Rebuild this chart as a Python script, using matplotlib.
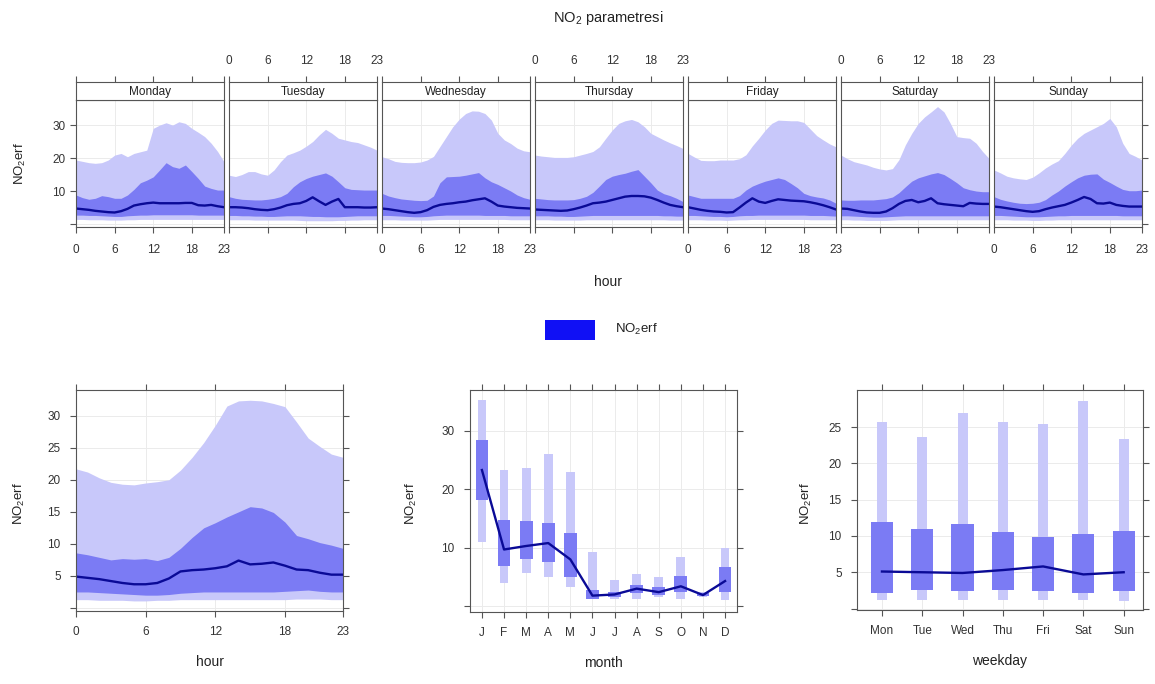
import numpy as np
import matplotlib
matplotlib.use('Agg')
import matplotlib.pyplot as plt
from matplotlib.patches import Rectangle

plt.rcParams['font.family'] = ['Liberation Sans', 'DejaVu Sans']
plt.rcParams['mathtext.fontset'] = 'custom'
plt.rcParams['mathtext.rm'] = 'Liberation Sans'

# ---- data ----
days = ['Monday', 'Tuesday', 'Wednesday', 'Thursday', 'Friday', 'Saturday', 'Sunday']
hours = list(range(24))

# day x hour: 95th percentile
day_p95 = [
    [19.4, 19.0, 18.6, 18.4, 18.6, 19.4, 20.9, 21.4, 20.4, 21.4, 21.9, 22.4, 29.0, 30.0, 30.7, 30.0, 31.0, 30.5, 29.0, 27.8, 26.5, 24.5, 22.0, 18.9],
    [14.8, 14.4, 15.0, 15.9, 15.9, 15.2, 14.8, 16.4, 18.9, 20.9, 21.6, 22.4, 23.6, 25.0, 27.0, 28.7, 27.5, 26.0, 25.5, 25.0, 24.7, 24.0, 23.3, 22.4],
    [20.4, 19.8, 19.0, 18.7, 18.6, 18.6, 18.8, 19.4, 20.5, 23.5, 26.5, 29.5, 31.8, 33.5, 34.3, 34.2, 33.5, 31.5, 27.5, 25.5, 24.4, 23.0, 22.2, 21.9],
    [20.9, 20.6, 20.4, 20.2, 20.2, 20.2, 20.4, 20.9, 21.4, 22.0, 23.4, 26.0, 28.5, 30.5, 31.3, 31.7, 31.0, 29.5, 27.5, 26.5, 25.5, 24.6, 23.8, 22.9],
    [21.4, 20.3, 19.3, 19.2, 19.2, 19.4, 19.4, 19.4, 19.8, 21.0, 23.7, 26.0, 28.5, 30.5, 31.5, 31.4, 31.3, 31.3, 30.8, 28.8, 26.8, 25.5, 24.3, 23.4],
    [20.9, 19.8, 18.9, 18.4, 17.9, 17.2, 16.7, 16.4, 16.8, 19.5, 24.0, 27.5, 30.5, 32.5, 34.0, 35.6, 34.0, 30.5, 26.5, 26.2, 26.0, 24.5, 22.0, 19.9],
    [16.4, 15.5, 14.5, 14.0, 13.7, 13.5, 14.2, 15.5, 17.0, 18.2, 19.2, 21.4, 23.9, 26.0, 27.5, 28.5, 29.5, 30.5, 32.0, 29.5, 24.5, 21.4, 20.5, 19.4],
]
# day x hour: 75th percentile
day_p75 = [
    [8.8, 8.0, 7.5, 7.8, 8.6, 8.3, 7.8, 7.8, 8.8, 10.5, 12.5, 13.3, 14.3, 16.4, 18.6, 17.4, 16.9, 17.9, 15.9, 13.8, 11.5, 10.8, 10.3, 10.3],
    [8.3, 7.8, 7.5, 7.4, 7.3, 7.3, 7.5, 7.8, 8.3, 9.3, 11.3, 12.8, 13.8, 14.5, 15.0, 15.5, 14.5, 12.8, 11.0, 10.5, 10.4, 10.3, 10.3, 10.3],
    [9.3, 8.5, 8.0, 7.6, 7.4, 7.2, 7.1, 7.2, 8.5, 12.5, 14.3, 14.4, 14.5, 14.8, 15.2, 15.6, 14.0, 12.8, 12.0, 11.0, 10.0, 8.8, 8.0, 7.5],
    [7.8, 7.6, 7.4, 7.3, 7.3, 7.3, 7.4, 7.8, 8.4, 9.6, 11.5, 13.5, 14.5, 15.0, 15.4, 16.0, 16.5, 14.5, 12.5, 10.3, 9.2, 8.6, 7.8, 6.8],
    [8.8, 8.3, 7.8, 7.8, 7.8, 7.8, 7.8, 7.8, 8.6, 10.3, 11.5, 12.3, 13.0, 13.5, 14.0, 13.5, 12.3, 11.0, 9.3, 8.6, 8.2, 7.9, 7.3, 6.3],
    [7.3, 7.2, 7.2, 7.3, 7.3, 7.3, 7.5, 7.7, 8.2, 9.5, 11.3, 13.0, 14.0, 14.6, 15.2, 15.6, 15.0, 13.8, 12.5, 11.0, 10.4, 10.0, 9.8, 9.8],
    [8.3, 7.5, 7.0, 6.6, 6.3, 6.2, 6.3, 6.6, 7.4, 8.8, 10.0, 11.5, 12.8, 14.0, 14.8, 15.1, 15.2, 13.6, 12.6, 11.5, 10.5, 10.1, 10.1, 10.3],
]
# day x hour: median
day_med = [
    [4.7, 4.5, 4.3, 4.0, 3.8, 3.6, 3.5, 3.9, 4.6, 5.6, 6.0, 6.3, 6.5, 6.3, 6.3, 6.3, 6.3, 6.4, 6.4, 5.7, 5.6, 5.8, 5.4, 5.1],
    [5.1, 5.1, 5.0, 4.8, 4.5, 4.3, 4.2, 4.5, 5.0, 5.7, 6.1, 6.3, 7.0, 8.1, 6.9, 5.8, 6.8, 7.6, 5.1, 5.1, 5.1, 5.0, 5.0, 5.1],
    [4.7, 4.5, 4.2, 3.9, 3.6, 3.4, 3.6, 4.2, 5.2, 5.8, 6.1, 6.3, 6.6, 6.8, 7.2, 7.5, 7.8, 6.8, 5.6, 5.3, 5.1, 4.9, 4.8, 4.7],
    [4.4, 4.3, 4.2, 4.1, 4.0, 4.1, 4.5, 5.0, 5.6, 6.3, 6.5, 6.8, 7.3, 7.8, 8.3, 8.5, 8.5, 8.4, 8.0, 7.3, 6.5, 5.8, 5.4, 5.1],
    [5.1, 4.7, 4.3, 4.0, 3.8, 3.7, 3.5, 3.6, 5.0, 6.5, 7.8, 6.8, 6.4, 7.0, 7.5, 7.3, 7.1, 7.0, 6.9, 6.6, 6.2, 5.7, 5.1, 4.4],
    [4.7, 4.6, 4.2, 3.8, 3.5, 3.4, 3.4, 3.8, 4.8, 6.1, 7.0, 7.3, 6.6, 7.0, 7.8, 6.3, 6.0, 5.8, 5.6, 5.4, 6.4, 6.2, 6.1, 6.1],
    [5.3, 5.1, 4.8, 4.5, 4.2, 3.9, 3.7, 3.9, 4.5, 5.0, 5.4, 5.8, 6.5, 7.3, 8.2, 7.6, 6.3, 6.2, 6.5, 5.8, 5.5, 5.3, 5.3, 5.3],
]
# day x hour: 25th percentile
day_p25 = [
    [2.7, 2.7, 2.6, 2.6, 2.5, 2.4, 2.3, 2.3, 2.5, 2.6, 2.7, 2.7, 2.8, 2.8, 2.8, 2.8, 2.8, 2.8, 2.8, 2.7, 2.7, 2.7, 2.7, 2.7],
    [2.6, 2.6, 2.5, 2.5, 2.4, 2.4, 2.3, 2.3, 2.4, 2.5, 2.5, 2.5, 2.4, 2.3, 2.3, 2.2, 2.2, 2.2, 2.3, 2.4, 2.5, 2.5, 2.5, 2.5],
    [2.6, 2.6, 2.5, 2.4, 2.3, 2.2, 2.2, 2.3, 2.5, 2.6, 2.7, 2.7, 2.7, 2.7, 2.7, 2.7, 2.6, 2.6, 2.6, 2.6, 2.5, 2.5, 2.5, 2.5],
    [2.5, 2.5, 2.5, 2.4, 2.4, 2.3, 2.3, 2.4, 2.5, 2.6, 2.6, 2.6, 2.6, 2.6, 2.6, 2.6, 2.6, 2.6, 2.6, 2.6, 2.5, 2.5, 2.4, 2.4],
    [2.6, 2.6, 2.5, 2.4, 2.3, 2.3, 2.2, 2.3, 2.5, 2.6, 2.6, 2.7, 2.7, 2.7, 2.7, 2.7, 2.7, 2.7, 2.7, 2.6, 2.6, 2.6, 2.5, 2.4],
    [2.5, 2.5, 2.4, 2.3, 2.2, 2.1, 2.1, 2.2, 2.3, 2.4, 2.5, 2.5, 2.5, 2.5, 2.5, 2.5, 2.5, 2.5, 2.5, 2.5, 2.5, 2.5, 2.5, 2.5],
    [2.6, 2.6, 2.5, 2.4, 2.3, 2.2, 2.2, 2.2, 2.3, 2.4, 2.5, 2.5, 2.6, 2.6, 2.6, 2.6, 2.6, 2.6, 2.6, 2.6, 2.5, 2.5, 2.5, 2.5],
]
# day x hour: 5th percentile
day_p05 = [
    [1.4, 1.4, 1.3, 1.3, 1.3, 1.2, 1.2, 1.2, 1.3, 1.3, 1.4, 1.4, 1.4, 1.4, 1.4, 1.4, 1.4, 1.4, 1.4, 1.4, 1.4, 1.4, 1.4, 1.4],
    [1.3, 1.3, 1.3, 1.3, 1.2, 1.2, 1.2, 1.2, 1.2, 1.2, 1.2, 1.1, 1.0, 1.0, 1.0, 1.0, 1.0, 1.1, 1.1, 1.2, 1.2, 1.3, 1.3, 1.3],
    [1.3, 1.3, 1.3, 1.2, 1.2, 1.2, 1.2, 1.2, 1.3, 1.4, 1.4, 1.4, 1.4, 1.4, 1.4, 1.4, 1.4, 1.4, 1.4, 1.4, 1.3, 1.3, 1.3, 1.3],
    [1.3, 1.3, 1.3, 1.2, 1.2, 1.2, 1.2, 1.2, 1.3, 1.3, 1.3, 1.3, 1.3, 1.3, 1.3, 1.3, 1.3, 1.3, 1.3, 1.3, 1.3, 1.2, 1.2, 1.2],
    [1.3, 1.3, 1.3, 1.2, 1.2, 1.2, 1.1, 1.2, 1.3, 1.3, 1.4, 1.4, 1.4, 1.4, 1.4, 1.4, 1.4, 1.4, 1.4, 1.3, 1.3, 1.3, 1.3, 1.3],
    [1.3, 1.3, 1.2, 1.2, 1.1, 1.1, 1.1, 1.1, 1.2, 1.3, 1.3, 1.3, 1.3, 1.3, 1.3, 1.3, 1.3, 1.3, 1.3, 1.3, 1.3, 1.3, 1.3, 1.3],
    [1.3, 1.3, 1.3, 1.2, 1.2, 1.2, 1.1, 1.1, 1.2, 1.2, 1.3, 1.3, 1.3, 1.3, 1.3, 1.3, 1.3, 1.3, 1.3, 1.3, 1.3, 1.3, 1.3, 1.3],
]

# whole-week hourly profile
hr_p95 = [21.7, 21.2, 20.3, 19.6, 19.3, 19.2, 19.5, 19.7, 20.0, 21.5, 23.5, 25.8, 28.5, 31.5, 32.3, 32.4, 32.3, 31.9, 31.4, 29.0, 26.5, 25.2, 24.0, 23.5]
hr_p75 = [8.6, 8.3, 7.9, 7.5, 7.7, 7.6, 7.7, 7.4, 7.9, 9.3, 11.0, 12.5, 13.3, 14.2, 15.0, 15.8, 15.6, 14.9, 13.4, 11.3, 10.8, 10.2, 9.8, 9.3]
hr_med = [4.9, 4.7, 4.5, 4.2, 3.9, 3.7, 3.7, 3.9, 4.6, 5.7, 5.9, 6.0, 6.2, 6.5, 7.4, 6.8, 6.9, 7.1, 6.6, 6.0, 5.9, 5.5, 5.2, 5.2]
hr_p25 = [2.5, 2.5, 2.4, 2.3, 2.2, 2.1, 2.0, 2.0, 2.1, 2.3, 2.4, 2.5, 2.5, 2.5, 2.5, 2.5, 2.5, 2.5, 2.6, 2.7, 2.8, 2.6, 2.5, 2.5]
hr_p05 = [1.3, 1.3, 1.2, 1.2, 1.2, 1.1, 1.1, 1.2, 1.2, 1.3, 1.3, 1.3, 1.3, 1.3, 1.3, 1.3, 1.3, 1.3, 1.3, 1.4, 1.4, 1.4, 1.3, 1.3]

# monthly
months = ['J', 'F', 'M', 'A', 'M', 'J', 'J', 'A', 'S', 'O', 'N', 'D']
mon_p95 = [35.3, 23.3, 23.6, 26.0, 23.0, 9.2, 4.4, 5.5, 5.0, 8.5, 2.5, 10.0]
mon_p75 = [28.4, 14.8, 14.5, 14.2, 12.6, 2.7, 2.5, 3.6, 3.3, 5.1, 2.2, 6.7]
mon_med = [23.3, 9.7, 10.3, 10.8, 8.0, 1.8, 2.0, 3.0, 2.4, 3.4, 1.9, 4.3]
mon_p25 = [18.2, 6.9, 8.0, 7.6, 5.0, 1.3, 1.6, 2.2, 1.9, 2.5, 1.7, 2.4]
mon_p05 = [10.9, 3.9, 5.7, 5.0, 3.3, 1.3, 1.3, 1.3, 1.6, 1.3, 1.6, 1.0]

# weekday
wdays = ['Mon', 'Tue', 'Wed', 'Thu', 'Fri', 'Sat', 'Sun']
wd_p95 = [25.7, 23.6, 26.9, 25.7, 25.4, 28.6, 23.4]
wd_p75 = [11.9, 11.0, 11.6, 10.5, 9.8, 10.3, 10.7]
wd_med = [5.1, 5.0, 4.9, 5.3, 5.8, 4.7, 5.0]
wd_p25 = [2.2, 2.5, 2.4, 2.5, 2.4, 2.1, 2.4]
wd_p05 = [1.2, 1.2, 1.2, 1.2, 1.2, 1.2, 1.0]

# ---- style ----
c_light = '#c8c8fa'
c_mid = '#7b7bf4'
c_line = '#0a0a96'
c_frame = '#555555'
c_grid = '#ebebeb'
ylab = 'NO$_\\mathregular{2}$erf'

W, H = 1155, 684
fig = plt.figure(figsize=(W / 100, H / 100), dpi=100)


def px(x0, y0, x1, y1):
    return [x0 / W, 1 - y1 / H, (x1 - x0) / W, (y1 - y0) / H]


def frame(ax):
    for s in ax.spines.values():
        s.set_color(c_frame)
        s.set_linewidth(0.8)
    ax.tick_params(color=c_frame, labelcolor='#333333', length=4, width=0.8,
                   labelsize=8.5, direction='out')
    ax.grid(color=c_grid, lw=0.7)
    ax.set_axisbelow(True)


# ---- top row: hour by day ----
for i, day in enumerate(days):
    x0 = 76 + 153 * i
    ax = fig.add_axes(px(x0, 100, x0 + 148, 227))
    frame(ax)
    ax.fill_between(hours, day_p05[i], day_p95[i], color=c_light, lw=0)
    ax.fill_between(hours, day_p25[i], day_p75[i], color=c_mid, lw=0)
    ax.plot(hours, day_med[i], color=c_line, lw=1.7)
    ax.set_xlim(0, 23)
    ax.set_ylim(-0.9, 37.6)
    ax.set_xticks([0, 6, 12, 18, 23])
    ax.set_yticks([0, 10, 20, 30])
    ax.tick_params(axis='x', top=False, labelbottom=(i % 2 == 0), pad=8)
    if i == 0:
        ax.set_yticklabels(['', '10', '20', '30'])
        ax.tick_params(axis='y', left=True, right=False)
    elif i == 6:
        ax.tick_params(axis='y', left=False, right=True, labelleft=False)
    else:
        ax.tick_params(axis='y', left=False, labelleft=False)

    st = fig.add_axes(px(x0, 82, x0 + 148, 100))
    for s in st.spines.values():
        s.set_color(c_frame)
        s.set_linewidth(0.8)
    st.set_xlim(0, 23)
    st.set_ylim(0, 1)
    st.set_yticks([])
    st.xaxis.tick_top()
    st.set_xticks([0, 6, 12, 18, 23])
    st.tick_params(axis='x', color=c_frame, labelcolor='#333333', length=4,
                   width=0.8, labelsize=8.5, labeltop=(i % 2 == 1), pad=7)
    st.text(11.5, 0.45, day, ha='center', va='center', fontsize=8.5, color='#222222')

fig.text(608 / W, 1 - 18 / H, 'NO$_\\mathregular{2}$ parametresi', ha='center', va='center',
         fontsize=10.5, color='#222222')
fig.text(20 / W, 1 - 163 / H, ylab, rotation=90, ha='center', va='center',
         fontsize=9.5, color='#222222')
fig.text(608 / W, 1 - 282 / H, 'hour', ha='center', va='center', fontsize=10, color='#222222')

# legend
fig.patches.append(Rectangle((545 / W, 1 - 340 / H), 50 / W, 20 / H,
                             transform=fig.transFigure, color='#1010f5', lw=0))
fig.text(615 / W, 1 - 329 / H, ylab, ha='left', va='center', fontsize=9.5, color='#222222')

# ---- bottom left: hour ----
ax = fig.add_axes(px(76, 390, 343, 611))
frame(ax)
ax.fill_between(hours, hr_p05, hr_p95, color=c_light, lw=0)
ax.fill_between(hours, hr_p25, hr_p75, color=c_mid, lw=0)
ax.plot(hours, hr_med, color=c_line, lw=1.7)
ax.set_xlim(0, 23)
ax.set_ylim(-0.47, 34.0)
ax.set_xticks([0, 6, 12, 18, 23])
ax.set_yticks([0, 5, 10, 15, 20, 25, 30])
ax.set_yticklabels(['', '5', '10', '15', '20', '25', '30'])
ax.tick_params(top=True, right=True, pad=7)
ax.set_xlabel('hour', fontsize=10, color='#222222', labelpad=12)
fig.text(19 / W, 1 - 503 / H, ylab, rotation=90, ha='center', va='center',
         fontsize=9.5, color='#222222')

# ---- bottom middle: month ----
ax = fig.add_axes(px(470, 390, 737, 612))
frame(ax)
xm = np.arange(len(months))
ax.bar(xm, np.array(mon_p95) - np.array(mon_p05), bottom=mon_p05, width=0.4,
       color=c_light, lw=0)
ax.bar(xm, np.array(mon_p75) - np.array(mon_p25), bottom=mon_p25, width=0.58,
       color=c_mid, lw=0)
ax.plot(xm, mon_med, color=c_line, lw=1.7)
ax.set_xlim(-0.54, 11.54)
ax.set_ylim(-1.0, 37.0)
ax.set_xticks(xm)
ax.set_xticklabels(months)
ax.set_yticks([0, 10, 20, 30])
ax.set_yticklabels(['', '10', '20', '30'])
ax.tick_params(top=True, right=True, pad=7)
ax.set_xlabel('month', fontsize=10, color='#222222', labelpad=12)
fig.text(411 / W, 1 - 503 / H, ylab, rotation=90, ha='center', va='center',
         fontsize=9.5, color='#222222')

# ---- bottom right: weekday ----
ax = fig.add_axes(px(857, 390, 1143, 610))
frame(ax)
xw = np.arange(len(wdays))
ax.bar(xw, np.array(wd_p95) - np.array(wd_p05), bottom=wd_p05, width=0.25,
       color=c_light, lw=0)
ax.bar(xw, np.array(wd_p75) - np.array(wd_p25), bottom=wd_p25, width=0.55,
       color=c_mid, lw=0)
ax.plot(xw, wd_med, color=c_line, lw=1.7)
ax.set_xlim(-0.62, 6.48)
ax.set_ylim(-0.2, 30.1)
ax.set_xticks(xw)
ax.set_xticklabels(wdays)
ax.set_yticks([0, 5, 10, 15, 20, 25])
ax.set_yticklabels(['', '5', '10', '15', '20', '25'])
ax.tick_params(top=True, right=True, pad=7)
ax.set_xlabel('weekday', fontsize=10, color='#222222', labelpad=12)
fig.text(806 / W, 1 - 503 / H, ylab, rotation=90, ha='center', va='center',
         fontsize=9.5, color='#222222')

fig.savefig('out.png', dpi=100)
